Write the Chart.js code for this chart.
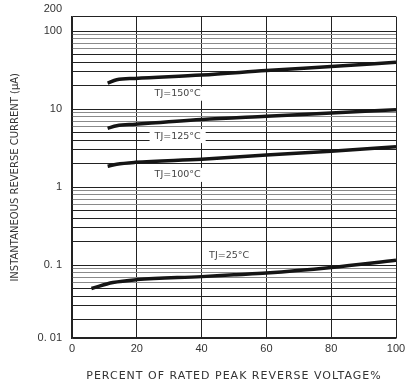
<!DOCTYPE html>
<html>
<head>
<meta charset="utf-8">
<script src="https://cdn.jsdelivr.net/npm/chart.js@4.4.1/dist/chart.umd.min.js"></script>
<style>
  html, body { margin: 0; padding: 0; background: #fff; }
  #wrap { width: 410px; height: 384px; }
</style>
</head>
<body>
<div id="wrap"><canvas id="irChart"></canvas></div>
<script>
// valeurs (x = % de la tension inverse, y = µA)
const x150 = [11, 13.8, 19.5, 40, 60, 80, 100];
const y150 = [21.4, 23.7, 24.7, 27.2, 31.1, 35.1, 39.8];
const x125 = [11, 13.8, 19.5, 40, 60, 80, 100];
const y125 = [5.65, 6.1, 6.38, 7.36, 8.1, 8.9, 9.8];
const x100 = [11, 13.8, 19.5, 40, 60, 80, 100];
const y100 = [1.85, 1.96, 2.07, 2.27, 2.57, 2.88, 3.28];
const x25 = [6, 12.6, 20, 40, 50, 60, 80, 100];
const y25 = [0.050, 0.0596, 0.065, 0.071, 0.075, 0.079, 0.093, 0.115];

const seriesLabels = ['TJ=150°C', 'TJ=125°C', 'TJ=100°C', 'TJ=25°C'];
const xTicks = [0, 20, 40, 60, 80, 100];
// bornes de l'axe tel que dessiné sur l'original (haut étiqueté 200, bas 0.01)
const yMin = 0.0116;
const yMax = 153;
const yLabelled = [yMin, 0.1, 1, 10, 100];
const yTickText = ['0. 01', '0. 1', '1', '10', '100'];
const yTopText = '200';

// position des étiquettes (en unités de données)
const labelPos = [[32.6, 15.7], [32.6, 4.5], [32.6, 1.43], [48.5, 0.133]];

function pts(xs, ys) {
    return xs.map((x, i) => ({ x: x, y: ys[i] }));
}

const allSeries = [pts(x150, y150), pts(x125, y125), pts(x100, y100), pts(x25, y25)];

// lignes 2..9 de chaque décade
const yGridTicks = [yMin];
[0.01, 0.1, 1, 10].forEach(d => {
    for (let k = 1; k <= 9; k++) {
        const v = +(d * k).toPrecision(3);
        if (v > yMin) yGridTicks.push(v);
    }
});
yGridTicks.push(100, yMax);

function mantissa(v) {
    return Math.round(v / Math.pow(10, Math.floor(Math.log10(v) + 1e-9)));
}

const textOverlay = {
    id: 'textOverlay',
    afterDatasetsDraw(chart) {
        const ctx = chart.ctx;
        const xs = chart.scales.x, ys = chart.scales.y;
        ctx.save();
        ctx.font = '9.5px "DejaVu Sans", sans-serif';
        ctx.textBaseline = 'middle';
        ctx.textAlign = 'center';
        seriesLabels.forEach((txt, i) => {
            const px = xs.getPixelForValue(labelPos[i][0]);
            const py = ys.getPixelForValue(labelPos[i][1]);
            const w = ctx.measureText(txt).width + 10;
            ctx.fillStyle = '#fff';
            ctx.fillRect(px - w / 2, py - 7, w, 14);
            ctx.fillStyle = '#444';
            ctx.fillText(txt, px, py);
        });
        ctx.restore();
    },
    afterDraw(chart) {
        const ctx = chart.ctx;
        const area = chart.chartArea;
        ctx.save();
        // étiquette du haut de l'axe, au-dessus du cadre comme sur l'original
        ctx.font = '11px "Liberation Sans", Arial, sans-serif';
        ctx.fillStyle = '#333';
        ctx.textAlign = 'right';
        ctx.textBaseline = 'middle';
        ctx.fillText(yTopText, area.left - 10, area.top - 8);
        ctx.font = '11px "DejaVu Sans", sans-serif';
        ctx.letterSpacing = '1px';
        ctx.textAlign = 'center';
        ctx.fillText('PERCENT OF RATED PEAK REVERSE VOLTAGE%', (area.left + area.right) / 2, 376);
        ctx.restore();
    }
};

new Chart(document.getElementById('irChart').getContext('2d'), {
    type: 'line',
    data: {
        datasets: allSeries.map((d, i) => ({
            label: seriesLabels[i],
            data: d,
            borderColor: '#151515',
            borderWidth: 3.5,
            pointRadius: 0,
            cubicInterpolationMode: 'monotone',
            fill: false
        }))
    },
    options: {
        responsive: true,
        maintainAspectRatio: false,
        animation: false,
        layout: { padding: { top: 15, right: 14, left: 0, bottom: 0 } },
        plugins: {
            legend: { display: false },
            tooltip: { enabled: false }
        },
        scales: {
            x: {
                type: 'linear',
                min: 0,
                max: 100,
                afterBuildTicks: axis => { axis.ticks = xTicks.map(v => ({ value: v })); },
                afterFit: axis => { axis.height = 46; },
                grid: { color: '#222', lineWidth: 1, drawTicks: false },
                border: { color: '#222', width: 1.5 },
                ticks: {
                    color: '#333',
                    padding: 4,
                    font: { family: '"Liberation Sans", Arial, sans-serif', size: 11 }
                }
            },
            y: {
                type: 'logarithmic',
                min: yMin,
                max: yMax,
                afterBuildTicks: axis => { axis.ticks = yGridTicks.map(v => ({ value: v })); },
                afterFit: axis => { axis.width = 72; },
                grid: {
                    lineWidth: 1,
                    drawTicks: false,
                    color: ctx => {
                        const v = ctx.tick ? ctx.tick.value : 1;
                        const m = mantissa(v);
                        return (m >= 6 && m <= 9) ? '#8a8a8a' : '#222';
                    }
                },
                border: { color: '#222', width: 1.5 },
                ticks: {
                    autoSkip: false,
                    color: '#333',
                    padding: 10,
                    font: { family: '"Liberation Sans", Arial, sans-serif', size: 11 },
                    callback: function(value) {
                        const i = yLabelled.findIndex(v => Math.abs(v - value) < value * 1e-6);
                        return i >= 0 ? yTickText[i] : '';
                    }
                },
                title: {
                    display: true,
                    text: 'INSTANTANEOUS REVERSE CURRENT (μA)',
                    color: '#333',
                    padding: { top: 9, bottom: 0 },
                    font: { family: '"DejaVu Sans", sans-serif', size: 10 }
                }
            }
        }
    },
    plugins: [textOverlay]
});
</script>
</body>
</html>
